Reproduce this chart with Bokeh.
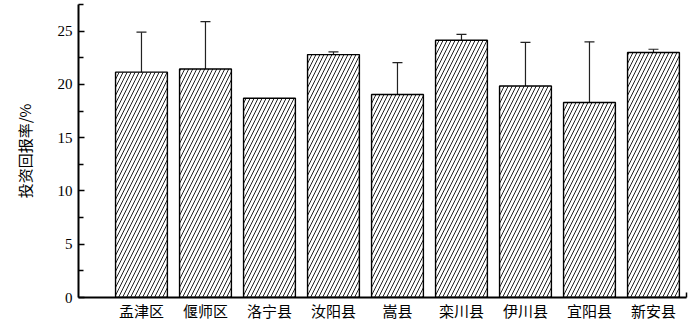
from bokeh.plotting import figure
from bokeh.models import ColumnDataSource, Whisker, FixedTicker, Range1d, TeeHead
from bokeh.embed import file_html
from bokeh.resources import INLINE

categories = ["孟津区", "偃师区", "洛宁县", "汝阳县", "嵩县", "栾川县", "伊川县", "宜阳县", "新安县"]
values = [21.15, 21.45, 18.7, 22.8, 19.05, 24.15, 19.85, 18.3, 23.0]
errors = [3.75, 4.45, 0.0, 0.25, 3.0, 0.55, 4.1, 5.7, 0.3]
y_ticks = [0, 5, 10, 15, 20, 25]
y_title = "投资回报率/%"

xs = list(range(len(categories)))
x_start, x_end = -0.984, 8.516

p = figure(width=700, height=323, output_backend="svg", toolbar_location=None,
           x_range=Range1d(x_start, x_end), y_range=Range1d(0, 27.5),
           min_border_left=78, min_border_right=14, min_border_top=4, min_border_bottom=0)
p.outline_line_color = None
p.grid.visible = False
p.background_fill_color = "white"
p.border_fill_color = "white"

src = ColumnDataSource(dict(x=xs, top=values))
p.vbar(x="x", top="top", width=0.81, source=src, fill_color="white",
       line_color="black", line_width=1.4,
       hatch_pattern="/", hatch_color="#222222", hatch_scale=8, hatch_weight=1.0)

ex = [x for x, e in zip(xs, errors) if e > 0]
eu = [v + e for v, e in zip(values, errors) if e > 0]
el = [v - e for v, e in zip(values, errors) if e > 0]
esrc = ColumnDataSource(dict(x=ex, upper=eu, lower=el))
w = Whisker(base="x", upper="upper", lower="lower", source=esrc,
            line_color="#222222", line_width=1.2,
            upper_head=TeeHead(size=10, line_color="#222222", line_width=1.2),
            lower_head=TeeHead(size=6, line_color="#222222", line_width=1.2))
p.add_layout(w)

xa = p.xaxis[0]
xa.ticker = FixedTicker(ticks=xs, minor_ticks=[x_end])
xa.major_label_overrides = {i: c for i, c in enumerate(categories)}
xa.major_tick_line_color = None
xa.major_tick_in = 0
xa.major_tick_out = 0
xa.minor_tick_in = 5
xa.minor_tick_out = 0
xa.minor_tick_line_color = "black"
xa.minor_tick_line_width = 1.5
xa.axis_line_width = 2
xa.axis_line_color = "black"
xa.major_label_text_font = "Noto Sans CJK SC"
xa.major_label_text_font_size = "15px"
xa.major_label_text_color = "black"
xa.major_label_standoff = 2

ya = p.yaxis[0]
ya.ticker = FixedTicker(ticks=y_ticks, minor_ticks=[2.5, 7.5, 12.5, 17.5, 22.5, 27.5])
ya.major_tick_in = 6
ya.major_tick_out = 0
ya.minor_tick_in = 5
ya.minor_tick_out = 0
ya.major_tick_line_width = 1.5
ya.minor_tick_line_width = 1.5
ya.minor_tick_line_color = "black"
ya.major_tick_line_color = "black"
ya.axis_line_width = 2
ya.axis_line_color = "black"
ya.major_label_text_font = "Liberation Serif"
ya.major_label_text_font_size = "15px"
ya.major_label_text_color = "black"
ya.major_label_standoff = 6
ya.axis_label = y_title
ya.axis_label_text_font = "Noto Sans CJK SC"
ya.axis_label_text_font_size = "15px"
ya.axis_label_text_font_style = "normal"
ya.axis_label_text_color = "black"
ya.axis_label_standoff = 20

open("out.html", "w").write(file_html(p, INLINE))
